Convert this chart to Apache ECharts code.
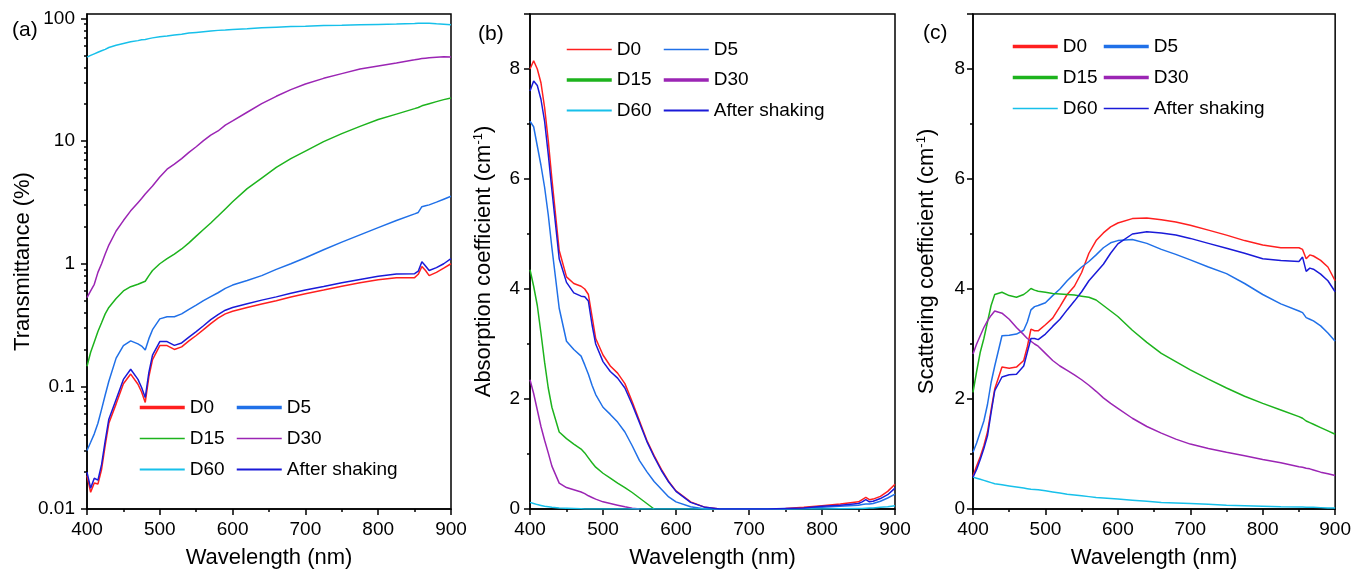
<!DOCTYPE html>
<html>
<head>
<meta charset="utf-8">
<style>
  html, body { margin: 0; padding: 0; background: #fff; }
  #chart { width: 1354px; height: 574px; }
</style>
<script src="https://cdn.jsdelivr.net/npm/echarts@6.0.0/dist/echarts.min.js"></script>
</head>
<body>
<div id="chart"></div>
<script>
// wavelength grid (nm), shared by the three panels
const wavelength = [
    400, 405, 410, 415, 420, 425, 430,
    440, 450, 460, 470, 475, 480, 485, 490,
    500, 510, 520, 530, 540, 550, 560, 570, 580, 590,
    600, 620, 640, 660, 680, 700,
    725, 750, 775, 800, 825, 850,
    855, 860, 865, 870, 880, 890, 900,
];

const names = ["D0", "D5", "D15", "D30", "D60", "After shaking"];
const colors = ["#ff1f1f", "#2070e8", "#1db31d", "#9b25b4", "#17c0ea", "#1a1ad8"];

// (a) transmittance (%)
const transD0 = [
    0.0187, 0.0137, 0.0163, 0.016, 0.021, 0.033, 0.05,
    0.072, 0.105, 0.126, 0.104, 0.09, 0.074, 0.12, 0.165,
    0.215, 0.215, 0.2, 0.21, 0.235, 0.26, 0.29, 0.325, 0.36, 0.39,
    0.41, 0.44, 0.47, 0.5, 0.535, 0.57,
    0.61, 0.655, 0.7, 0.74, 0.77, 0.77,
    0.82, 0.95, 0.88, 0.8, 0.85, 0.92, 1.0,
];
const transD5 = [
    0.03, 0.035, 0.041, 0.05, 0.065, 0.085, 0.11,
    0.17, 0.215, 0.235, 0.222, 0.213, 0.198, 0.245, 0.29,
    0.355, 0.37, 0.37, 0.39, 0.425, 0.46, 0.5, 0.54, 0.58, 0.63,
    0.67, 0.73, 0.8, 0.9, 1.0, 1.12,
    1.3, 1.5, 1.72, 1.97, 2.25, 2.55,
    2.62, 2.92, 2.97, 3.02, 3.18, 3.36, 3.55,
];
const transD15 = [
    0.146, 0.19, 0.23, 0.28, 0.33, 0.39, 0.44,
    0.52, 0.6, 0.65, 0.68, 0.7, 0.72, 0.8, 0.88,
    1.0, 1.1, 1.2, 1.32, 1.48, 1.68, 1.9, 2.15, 2.45, 2.8,
    3.2, 4.1, 5.0, 6.1, 7.2, 8.3,
    9.9, 11.5, 13.2, 15.0, 16.6, 18.4,
    18.8, 19.4, 19.8, 20.2, 21.0, 21.8, 22.5,
];
const transD30 = [
    0.53, 0.6, 0.68, 0.85, 1.0, 1.2, 1.42,
    1.85, 2.25, 2.7, 3.15, 3.4, 3.7, 4.0, 4.3,
    5.1, 5.9, 6.5, 7.2, 8.1, 9.0, 10.1, 11.2, 12.1, 13.5,
    14.6, 17.2, 20.2, 23.2, 26.3, 29.2,
    32.5, 35.5, 38.8, 41.0, 43.3, 46.0,
    46.6, 47.1, 47.5, 47.9, 48.4, 48.8, 48.5,
];
const transD60 = [
    48.4, 50, 51.5, 53, 54.5, 56, 58,
    60.5, 62.5, 64.5, 66, 67, 67.5, 68.5, 69.5,
    71, 72, 73.5, 74.5, 76, 77, 78, 79, 80, 80.5,
    81.5, 82.5, 84, 85, 86, 86.5,
    87.5, 88, 89, 89.5, 90, 91,
    91.3, 91.5, 91.5, 91.3, 90.5, 89.8, 89,
];
const transShaken = [
    0.02, 0.0148, 0.0178, 0.0172, 0.023, 0.036, 0.054,
    0.078, 0.114, 0.138, 0.114, 0.098, 0.081, 0.13, 0.18,
    0.232, 0.232, 0.216, 0.226, 0.252, 0.28, 0.312, 0.35, 0.385, 0.418,
    0.44, 0.472, 0.505, 0.537, 0.575, 0.61,
    0.652, 0.7, 0.745, 0.79, 0.825, 0.83,
    0.87, 1.04, 0.96, 0.88, 0.93, 1.0, 1.1,
];

// (b) absorption coefficient (cm-1)
const absD0 = [
    8.0, 8.15, 8.0, 7.75, 7.3, 6.7, 6.0,
    4.7, 4.22, 4.1, 4.05, 4.0, 3.9, 3.5, 3.1,
    2.8, 2.6, 2.47, 2.28, 1.95, 1.6, 1.25, 0.97, 0.72, 0.5,
    0.33, 0.13, 0.03, 0, 0, 0,
    0, 0.01, 0.03, 0.06, 0.09, 0.13,
    0.17, 0.21, 0.17, 0.18, 0.23, 0.32, 0.45,
];
const absD5 = [
    7.05, 6.95, 6.6, 6.25, 5.85, 5.35, 4.75,
    3.65, 3.05, 2.9, 2.78, 2.62, 2.45, 2.25, 2.08,
    1.85, 1.72, 1.58, 1.4, 1.15, 0.88, 0.68, 0.5, 0.36, 0.22,
    0.13, 0.04, 0, 0, 0, 0,
    0, 0, 0.01, 0.03, 0.05, 0.07,
    0.08, 0.09, 0.09, 0.1, 0.14, 0.2, 0.27,
];
const absD15 = [
    4.35, 4.05, 3.7, 3.2, 2.67, 2.2, 1.85,
    1.4, 1.28, 1.18, 1.09, 1.02, 0.93, 0.84, 0.76,
    0.65, 0.56, 0.47, 0.39, 0.3, 0.2, 0.1, 0, null, null,
    null, null, null, null, null, null,
    null, null, null, null, null, null,
    null, null, null, null, null, null, null,
];
const absD30 = [
    2.35, 2.1, 1.8, 1.5, 1.25, 1.02, 0.78,
    0.47, 0.39, 0.35, 0.31, 0.28, 0.24, 0.21, 0.18,
    0.13, 0.1, 0.07, 0.04, 0.015, 0, null, null, null, null,
    null, null, null, null, null, null,
    null, null, null, null, null, null,
    null, null, null, null, null, null, null,
];
const absD60 = [
    0.12, 0.1, 0.08, 0.065, 0.05, 0.04, 0.03,
    0.02, 0.015, 0.01, 0.005, 0, 0, 0, 0,
    0, 0, 0, 0, 0, 0, 0, 0, 0, 0,
    0, 0, 0, 0, 0, 0,
    0, 0, 0, 0, 0.005, 0.01,
    0.01, 0.015, 0.02, 0.02, 0.03, 0.04, 0.06,
];
const absShaken = [
    7.6, 7.78, 7.7, 7.45, 7.05, 6.45, 5.8,
    4.55, 4.12, 3.93, 3.87, 3.86, 3.78, 3.35, 3.0,
    2.68, 2.5, 2.38, 2.2, 1.9, 1.57, 1.23, 0.95, 0.7, 0.49,
    0.32, 0.12, 0.03, 0, 0, 0,
    0, 0.01, 0.02, 0.05, 0.07, 0.1,
    0.13, 0.17, 0.13, 0.14, 0.19, 0.26, 0.38,
];

// (c) scattering coefficient (cm-1)
const scaD0 = [
    0.6, 0.78, 0.95, 1.15, 1.4, 1.8, 2.18,
    2.58, 2.56, 2.58, 2.7, 2.95, 3.27, 3.24, 3.24,
    3.35, 3.47, 3.68, 3.9, 4.05, 4.3, 4.65, 4.88, 5.02, 5.13,
    5.2, 5.28, 5.29, 5.26, 5.22, 5.16,
    5.07, 4.98, 4.88, 4.8, 4.75, 4.75,
    4.72, 4.55, 4.62, 4.6, 4.52, 4.4, 4.15,
];
const scaD5 = [
    1.03, 1.2, 1.4, 1.6, 1.9, 2.3, 2.6,
    3.15, 3.16, 3.18, 3.25, 3.4, 3.62, 3.68, 3.7,
    3.75, 3.88, 4.0, 4.15, 4.28, 4.4, 4.5, 4.62, 4.75, 4.84,
    4.88, 4.9, 4.83, 4.72, 4.63, 4.53,
    4.4, 4.28, 4.1, 3.9, 3.73, 3.6,
    3.57, 3.48, 3.45, 3.42, 3.33, 3.2, 3.05,
];
const scaD15 = [
    2.12, 2.5, 2.85, 3.1, 3.4, 3.7, 3.9,
    3.94, 3.88, 3.85, 3.9, 3.95, 4.01, 3.98, 3.96,
    3.94, 3.92, 3.91, 3.9, 3.89, 3.87, 3.85, 3.8, 3.7, 3.6,
    3.5, 3.25, 3.03, 2.83, 2.68, 2.53,
    2.36, 2.2, 2.05, 1.92, 1.8, 1.68,
    1.65, 1.6, 1.57, 1.54, 1.48, 1.42, 1.36,
];
const scaD30 = [
    2.82, 3.0, 3.15, 3.3, 3.42, 3.52, 3.6,
    3.56, 3.45, 3.3, 3.17, 3.1, 3.05, 3.0, 2.96,
    2.83, 2.7, 2.6, 2.52, 2.44, 2.35, 2.25, 2.14, 2.02, 1.92,
    1.83, 1.65, 1.5, 1.38, 1.27, 1.18,
    1.1, 1.03, 0.97, 0.9, 0.84, 0.77,
    0.76, 0.74, 0.73, 0.71, 0.67, 0.64, 0.61,
];
const scaD60 = [
    0.58, 0.56, 0.54, 0.52, 0.5, 0.48, 0.46,
    0.44, 0.42, 0.4, 0.38, 0.37, 0.36, 0.355, 0.35,
    0.33, 0.31, 0.29, 0.27, 0.255, 0.24, 0.225, 0.21, 0.2, 0.19,
    0.18, 0.16, 0.14, 0.12, 0.11, 0.1,
    0.085, 0.07, 0.06, 0.05, 0.04, 0.035,
    0.035, 0.03, 0.03, 0.03, 0.025, 0.02, 0.02,
];
const scaShaken = [
    0.58, 0.72, 0.9, 1.1, 1.33, 1.75, 2.15,
    2.4, 2.44, 2.45, 2.6, 2.85, 3.1, 3.1, 3.08,
    3.18, 3.32, 3.45, 3.62, 3.78, 3.95, 4.15, 4.3, 4.45, 4.65,
    4.82, 5.0, 5.04, 5.02, 4.98, 4.92,
    4.83, 4.74, 4.65, 4.55, 4.52, 4.5,
    4.58, 4.32, 4.38, 4.36, 4.27, 4.15, 3.95,
];

const logMinorTicks = [];
[0.01, 0.1, 1, 10].forEach((d) => {
    for (let k = 2; k <= 9; k++) logMinorTicks.push(+(d * k).toPrecision(3));
});

const font = "Liberation Sans, Arial, sans-serif";
const black = "#000";

// panel geometry (px)
const grids = [
    { left: 87, top: 14, width: 364, height: 496 },
    { left: 530, top: 14, width: 365, height: 496 },
    { left: 973, top: 14, width: 364, height: 496 },
];

const panelValues = [
    [transD0, transD5, transD15, transD30, transD60, transShaken],
    [absD0, absD5, absD15, absD30, absD60, absShaken],
    [scaD0, scaD5, scaD15, scaD30, scaD60, scaShaken],
];
const panelYAxis = [0, 2, 3];

// legend line widths per panel (D0, D5, D15, D30, D60, After shaking)
const legendWidths = [
    [3.5, 3.5, 1.5, 1.5, 2, 2],
    [1.5, 1.5, 3.5, 3.5, 2, 2],
    [3.5, 3.5, 3.5, 3.5, 1.5, 1.5],
];
const legendPos = [
    { col1: 138, col2: 235, top: 398, gap: 12 },
    { col1: 565, col2: 662, top: 40, gap: 11.5 },
    { col1: 1011, col2: 1102, top: 37, gap: 12 },
];

const makeX = (gi) => ({
    type: "value",
    gridIndex: gi,
    min: 400,
    max: 900,
    interval: 100,
    z: 3,
    name: "Wavelength (nm)",
    nameLocation: "middle",
    nameGap: 38,
    nameTextStyle: { fontFamily: font, fontSize: 22, color: black },
    axisLine: { lineStyle: { color: black, width: 1.5 } },
    axisTick: { length: 6, lineStyle: { color: black, width: 1.5 } },
    minorTick: { show: true, splitNumber: 2, length: 3, lineStyle: { color: black, width: 1.5 } },
    axisLabel: { fontFamily: font, fontSize: 19, color: black, margin: 11 },
    splitLine: { show: false },
});

const linY = (gi, title, margin) => ({
    type: "value",
    gridIndex: gi,
    min: 0,
    max: 9,
    interval: 2,
    z: 3,
    name: title,
    nameLocation: "middle",
    nameGap: 35,
    nameTextStyle: {
        fontFamily: font,
        fontSize: 22,
        color: black,
        rich: { sup: { fontFamily: font, fontSize: 13, color: black, verticalAlign: "top", padding: [0, 0, 10, 0] } },
    },
    axisLine: { lineStyle: { color: black, width: 1.5 } },
    axisTick: { length: 6, lineStyle: { color: black, width: 1.5 } },
    minorTick: { show: true, splitNumber: 2, length: 3, lineStyle: { color: black, width: 1.5 } },
    axisLabel: { fontFamily: font, fontSize: 19, color: black, margin: margin, showMaxLabel: false },
    splitLine: { show: false },
});

const series = [];
panelValues.forEach((vals, p) => {
    vals.forEach((v, i) => {
        series.push({
            name: names[i],
            type: "line",
            xAxisIndex: p,
            yAxisIndex: panelYAxis[p],
            symbol: "none",
            silent: true,
            lineStyle: { color: colors[i], width: 1.5 },
            itemStyle: { color: colors[i] },
            data: wavelength.map((w, k) => [w, v[k]]),
        });
    });
});

const legends = [];
legendPos.forEach((pos, p) => {
    [[0, 2, 4], [1, 3, 5]].forEach((idx, c) => {
        legends.push({
            orient: "vertical",
            left: c === 0 ? pos.col1 : pos.col2,
            top: pos.top,
            padding: 0,
            itemGap: pos.gap,
            itemWidth: 45,
            itemHeight: 14,
            selectedMode: false,
            textStyle: { fontFamily: font, fontSize: 19, color: black },
            data: idx.map((i) => ({
                name: names[i],
                // hide the symbol, keep only the line
                itemStyle: { color: "rgba(0,0,0,0)", borderColor: "rgba(0,0,0,0)", borderWidth: 0, opacity: 0 },
                lineStyle: { color: colors[i], width: legendWidths[p][i] },
            })),
        });
    });
});

const chart = echarts.init(document.getElementById("chart"));
chart.setOption({
    backgroundColor: "#fff",
    animation: false,
    title: [
        { text: "(a)", left: 7, top: 15 },
        { text: "(b)", left: 473, top: 19 },
        { text: "(c)", left: 918, top: 18 },
    ].map((t) => ({ ...t, textStyle: { fontFamily: font, fontSize: 21, fontWeight: "normal", color: black } })),
    grid: grids.map((g) => ({ ...g, show: true, borderColor: black, borderWidth: 1.5, backgroundColor: "transparent" })),
    legend: legends,
    xAxis: [makeX(0), makeX(1), makeX(2)],
    yAxis: [
        {
            type: "log",
            gridIndex: 0,
            logBase: 10,
            min: 0.01,
            max: 108.8,
            z: 3,
            name: "Transmittance (%)",
            nameLocation: "middle",
            nameGap: 53,
            nameTextStyle: { fontFamily: font, fontSize: 22, color: black },
            axisLine: { lineStyle: { color: black, width: 1.5 } },
            axisTick: { length: 6, lineStyle: { color: black, width: 1.5 } },
            axisLabel: { fontFamily: font, fontSize: 19, color: black, margin: 12, showMaxLabel: false },
            splitLine: { show: false },
        },
        {
            // minor ticks of the log axis (2..9 in each decade)
            type: "log",
            gridIndex: 0,
            position: "left",
            logBase: 10,
            min: 0.01,
            max: 108.8,
            z: 3,
            axisLine: { show: false },
            axisTick: { length: 3, customValues: logMinorTicks, lineStyle: { color: black, width: 1.5 } },
            axisLabel: { show: false },
            splitLine: { show: false },
        },
        linY(1, "Absorption coefficient (cm{sup|-1})", 10),
        linY(2, "Scattering coefficient (cm{sup|-1})", 8),
    ],
    series: series,
});
</script>
</body>
</html>
